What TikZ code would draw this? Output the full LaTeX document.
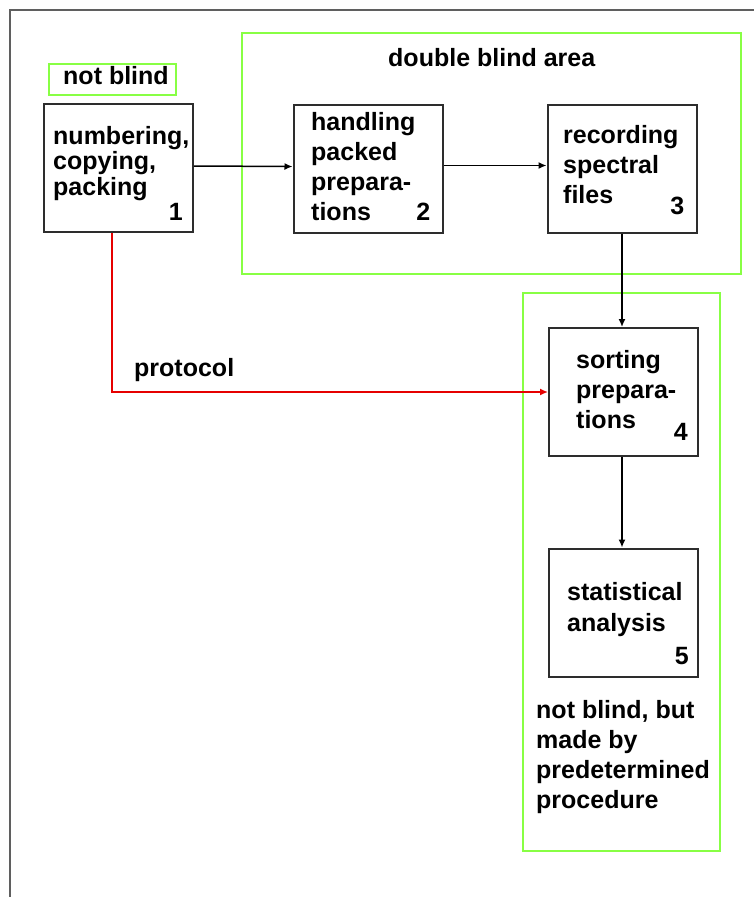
\documentclass[tikz,border=0pt]{standalone}
\usepackage{fontspec}
\setmainfont{Liberation Sans}
\usetikzlibrary{arrows.meta}
\definecolor{limegreen}{RGB}{136,255,68}
\definecolor{boxgray}{RGB}{45,45,45}
\definecolor{framegray}{RGB}{95,95,95}
\definecolor{protored}{RGB}{230,0,0}
\begin{document}
\begin{tikzpicture}[x=1pt,y=-1pt,
  box/.style={draw=boxgray,line width=2pt,minimum width=149pt,minimum height=128pt,inner sep=0pt},
  greenbox/.style={draw=limegreen,line width=2pt,inner sep=0pt},
  txt/.style={anchor=base west,align=left,inner sep=0pt,font=\bfseries\fontsize{25}{30}\selectfont},
  num/.style={anchor=base east,inner sep=0pt,font=\bfseries\fontsize{25}{30}\selectfont},
  arr/.style={draw=black,line width=1.5pt,-{Latex[length=8pt,width=7pt]}},
  redarr/.style={draw=protored,line width=1.5pt,-{Latex[length=8pt,width=7pt]}}]
\useasboundingbox (0,0) rectangle (754,897);
\fill[white] (0,0) rectangle (754,897);
% outer frame
\draw[framegray,line width=2pt] (10,897) -- (10,10) -- (754,10);
% green areas
\node[greenbox,minimum width=127pt,minimum height=31pt] (gnb) at (112.5,79.5) {};
\node[greenbox,minimum width=499pt,minimum height=241pt] (gdb) at (491.5,153.5) {};
\node[greenbox,minimum width=197pt,minimum height=558pt] (gr) at (621.5,572) {};
\node[txt] (tnb) at (63,84) {not blind};
\node[txt] (tdb) at (388,66) {double blind area};
% boxes
\node[box] (b1) at (118.5,168) {};
\node[box] (b2) at (368,168.5) {};
\node[box] (b3) at (622,168.5) {};
\node[box] (b4) at (623.5,392) {};
\node[box] (b5) at (623.5,612.5) {};
% box texts (anchor = baseline of the last line)
\node[txt,font=\bfseries\fontsize{25}{25.5}\selectfont] (t1) at (53,195) {numbering,\\copying,\\packing};
\node[txt] (t2) at (311,220) {handling\\packed\\prepara-\\tions};
\node[txt] (t3) at (563,203) {recording\\spectral\\files};
\node[txt] (t4) at (576,428) {sorting\\prepara-\\tions};
\node[txt,font=\bfseries\fontsize{25}{31}\selectfont] (t5) at (567,631) {statistical\\analysis};
\node[txt,font=\bfseries\fontsize{25}{29.7}\selectfont] (tnote) at (536,808) {not blind, but\\made by\\predetermined\\procedure};
% numbers
\node[num] (n1) at ([xshift=-11pt,yshift=13pt]b1.south east) {1};
\node[num] (n2) at ([xshift=-13pt,yshift=13pt]b2.south east) {2};
\node[num] (n3) at ([xshift=-13pt,yshift=19pt]b3.south east) {3};
\node[num] (n4) at ([xshift=-11pt,yshift=17pt]b4.south east) {4};
\node[num] (n5) at ([xshift=-10pt,yshift=13pt]b5.south east) {5};
% connectors
\draw[arr] ([yshift=2pt]b1.east) -- ([yshift=2pt]b2.west);
\draw[arr] ([yshift=3pt]b2.east) -- ([yshift=3pt]b3.west);
\draw[arr] (b3.south) -- (b3.south |- b4.north);
\draw[arr] ([xshift=-1.5pt]b4.south) -- ([xshift=-1.5pt]b5.north);
\draw[redarr] ([xshift=-6.5pt]b1.south) |- (b4.west);
\node[txt] (tprot) at (134,376) {protocol};
\end{tikzpicture}
\end{document}
